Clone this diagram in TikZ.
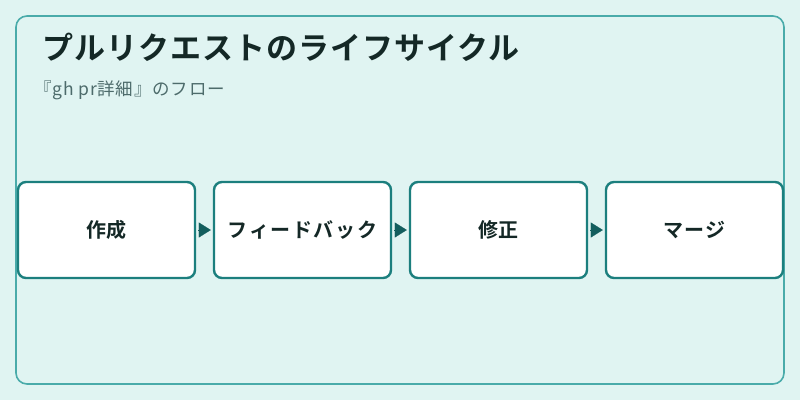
\documentclass[tikz,border=0pt]{standalone}
\usepackage{fontspec}
\setmainfont{Noto Sans CJK JP}[BoldFont=* Bold]
\usetikzlibrary{arrows.meta}
\definecolor{bgc}{HTML}{E0F4F2}
\definecolor{framec}{HTML}{4AABAA}
\definecolor{boxc}{HTML}{1C7F7E}
\definecolor{arrc}{HTML}{135E5E}
\definecolor{titlec}{HTML}{142826}
\definecolor{subc}{HTML}{4D6B6B}
\tikzset{
  stepbox/.style={draw=boxc, line width=2.4pt, fill=white, rounded corners=8pt,
    minimum width=177pt, minimum height=96pt, inner sep=0pt,
    font=\bfseries\fontsize{20}{24}\selectfont, text=titlec},
  flow/.style={draw=arrc, fill=arrc, line width=0.2pt, shorten <=2pt, shorten >=2pt,
    -{Triangle[length=12pt,width=15pt]}}
}
\begin{document}
\begin{tikzpicture}[x=1pt,y=-1pt]
\useasboundingbox (0,0) rectangle (800,400);
\fill[bgc] (0,0) rectangle (800,400);
\draw[framec, line width=1.6pt, rounded corners=11pt] (16,16) rectangle (784,384);
\node[anchor=base west, inner sep=0pt, text=titlec, font=\bfseries\fontsize{31}{36}\selectfont] (title) at (42,59)
  {\addfontfeature{LetterSpace=3.3}プルリクエストのライフサイクル};
\node[anchor=base west, inner sep=0pt, text=subc, font=\fontsize{17.5}{20}\selectfont] (sub) at (34,95) {\addfontfeature{LetterSpace=4.5}『gh pr詳細』のフロー};
\node[stepbox] (b1) at (106.5,230) {\raisebox{-1.5pt}{作成}};
\node[stepbox] (b2) at (302.5,230) {\raisebox{-1.5pt}{\addfontfeature{LetterSpace=8}フィードバック}};
\node[stepbox] (b3) at (498.5,230) {\raisebox{-1.5pt}{修正}};
\node[stepbox] (b4) at (694.5,230) {\raisebox{-1.5pt}{\addfontfeature{LetterSpace=8}マージ}};
\draw[flow] (b1.east) -- (b2.west);
\draw[flow] (b2.east) -- (b3.west);
\draw[flow] (b3.east) -- (b4.west);
\end{tikzpicture}
\end{document}
